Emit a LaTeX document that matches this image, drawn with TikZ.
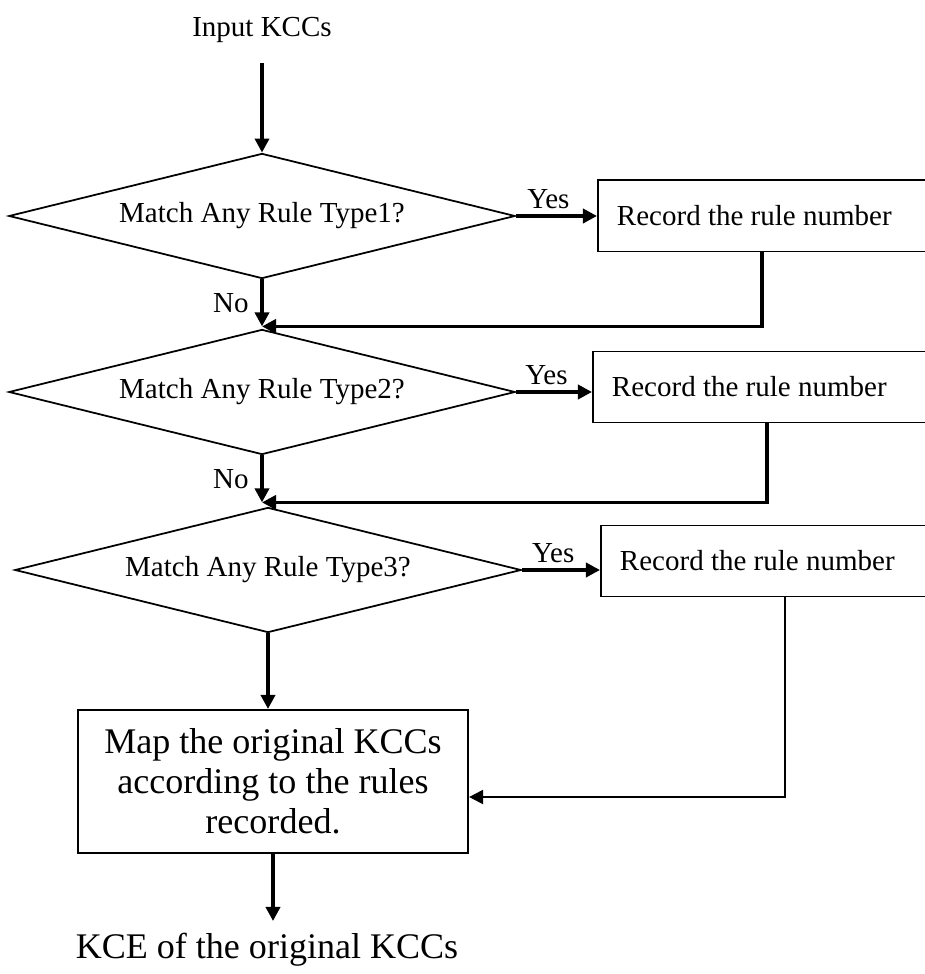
\documentclass[tikz,border=0pt]{standalone}
\usepackage{fontspec}
\setmainfont{Liberation Serif}
\usetikzlibrary{shapes.geometric,arrows.meta,calc}

\begin{document}
\begin{tikzpicture}[x=0.01cm, y=-0.01cm, >={Triangle[length=4pt,width=4pt]},
  small text/.style={font=\fontsize{8.25}{9.5}\selectfont},
  big text/.style={font=\fontsize{10.25}{11.4}\selectfont},
  every decision/.style={draw, shape=diamond, shape aspect=4, inner sep=0pt,
    minimum width=5.06cm, minimum height=1.25cm, line width=0.5pt, small text},
  every record/.style={draw, anchor=west, text width=3.1cm, align=flush left,
    inner xsep=0.19cm, minimum height=0.71cm, line width=0.55pt, small text},
  flow/.style={->, line width=1pt}]

\useasboundingbox (0,0) rectangle (924,974);

% Entrada

\node [small text] (input) at (262,30) {Input KCCs};

% Testes das regras e registros

\foreach \i/\dx/\dy/\bx/\by in {1/262/216/597/216, 2/262/392/592/387, 3/268/570/600/561} {
  \node [every decision/.try] (match-\i) at (\dx,\dy) {Match Any Rule Type\i?};
  \node [every record/.try] (record-\i) at (\bx,\by) {Record the rule number};
  \draw [flow] (match-\i.east) -- (match-\i.east -| record-\i.west)
    node [above, pos=0.4, inner sep=1.5pt, small text] {Yes};
}

% Setas do "No" e retornos

\foreach \i/\s in {1/-0.1cm, 2/0cm} {
  \coordinate (join-\i) at ($(match-\i.south)+(0,47)$);
  \draw [flow] (match-\i.south) -- (join-\i)
    node [left, midway, small text] {No};
  \draw [flow] ([xshift=\s]record-\i.south) |- (join-\i);
}

\draw [flow, shorten <=0.08cm] (input) -- (match-1);

% Mapeamento e saida

\node [draw, big text, align=center, minimum width=3.9cm, minimum height=1.43cm,
  line width=0.55pt] (map) at (273,781.5)
  {Map the original KCCs\\according to the rules\\recorded.};

\node [big text] (output) at (267,950) {KCE of the original KCCs};

\draw [flow] (match-3.south) -- (match-3.south |- map.north);
\draw [->, line width=0.6pt] ([xshift=0.1cm]record-3.south)
  |- ([yshift=-0.155cm]map.east);
\draw [flow] (map.south) -- (map.south |- output.north);

\end{tikzpicture}
\end{document}
